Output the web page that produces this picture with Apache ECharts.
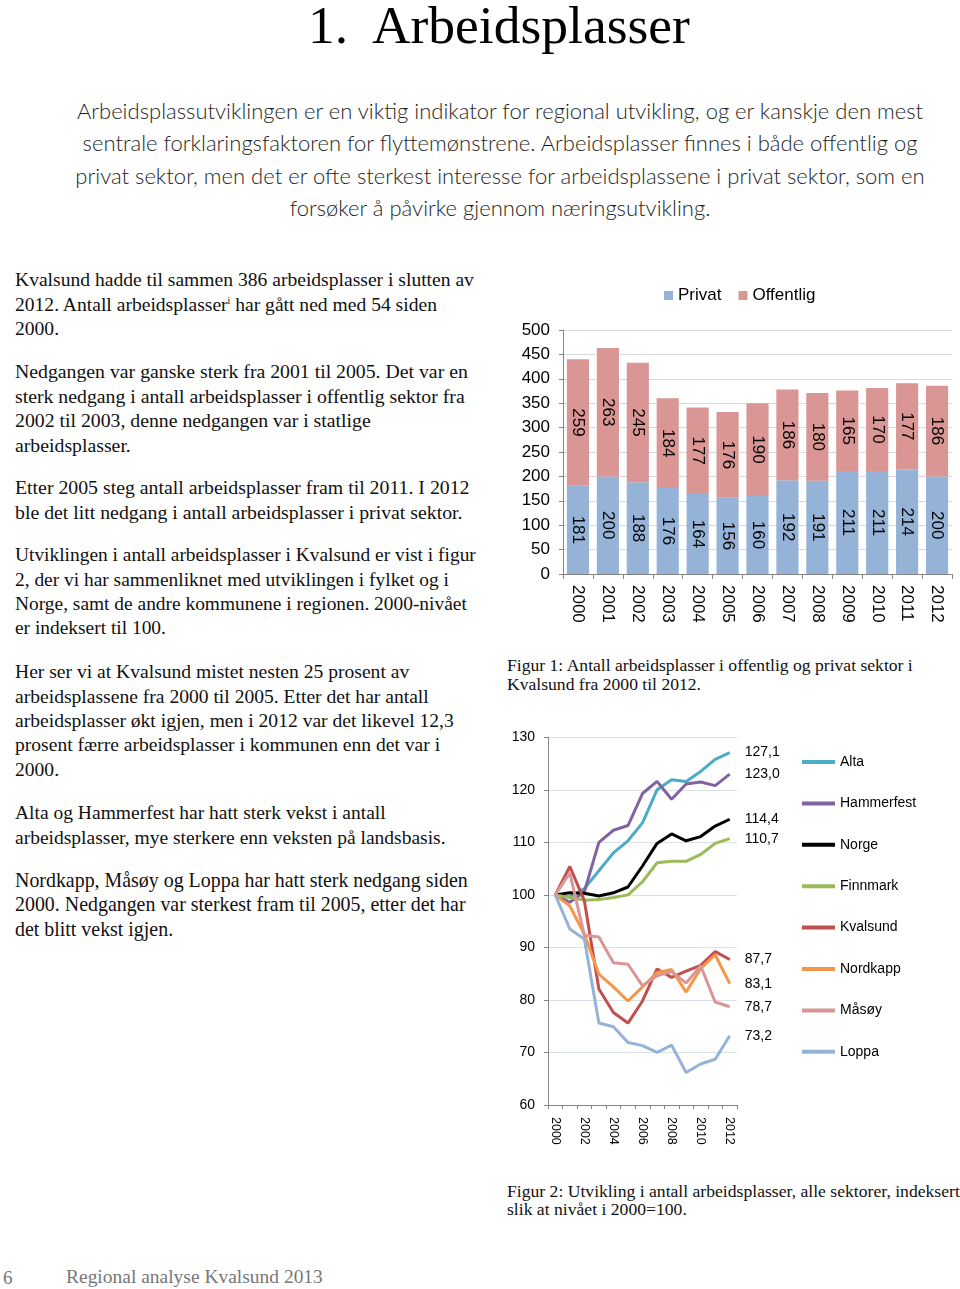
<!DOCTYPE html>
<html><head><meta charset="utf-8">
<script src="https://cdn.jsdelivr.net/npm/echarts@6/dist/echarts.min.js"></script>
<style>
html,body{margin:0;padding:0;background:#fff;}
#page{position:relative;width:960px;height:1289px;overflow:hidden;background:#fff;}
.t{position:absolute;white-space:nowrap;margin:0;}
.serif{font-family:"Liberation Serif","DejaVu Serif",serif;color:#111;font-size:18px;}
.sans{font-family:Lato,"Open Sans",sans-serif;color:#1e1e1e;font-size:20px;font-weight:300;}
sup{font-size:0.5em;vertical-align:0.75em;line-height:0;}
#c1{position:absolute;left:500px;top:270px;width:460px;height:370px;}
#c2{position:absolute;left:500px;top:720px;width:460px;height:450px;}
</style></head><body><div id="page">

<div class="t serif" data-w="382" data-b="43" data-lh="56" data-k="0.3375" style="left:308px;font-size:53px;color:#000">1.&nbsp; Arbeidsplasser</div>

<div class="t sans" data-w="850" data-b="119.3" data-lh="32.5" data-k="0.387" data-center="500" style="text-align:center">Arbeidsplassutviklingen er en viktig indikator for regional utvikling, og er kanskje den mest<br>sentrale forklaringsfaktoren for flyttemønstrene. Arbeidsplasser finnes i både offentlig og<br>privat sektor, men det er ofte sterkest interesse for arbeidsplassene i privat sektor, som en<br>forsøker å påvirke gjennom næringsutvikling.</div>

<div class="t serif" data-w="459" data-b="287.3" data-lh="24.4" data-k="0.3375" style="left:15px">Kvalsund hadde til sammen 386 arbeidsplasser i slutten av<br>2012. Antall arbeidsplasser<sup>i</sup> har gått ned med 54 siden<br>2000.</div>

<div class="t serif" data-w="453" data-b="378.2" data-lh="24.4" data-k="0.3375" style="left:15px">Nedgangen var ganske sterk fra 2001 til 2005. Det var en<br>sterk nedgang i antall arbeidsplasser i offentlig sektor fra<br>2002 til 2003, denne nedgangen var i statlige<br>arbeidsplasser.</div>

<div class="t serif" data-w="455" data-b="494" data-lh="24.4" data-k="0.3375" style="left:15px">Etter 2005 steg antall arbeidsplasser fram til 2011. I 2012<br>ble det litt nedgang i antall arbeidsplasser i privat sektor.</div>

<div class="t serif" data-w="461" data-b="562" data-lh="24.4" data-k="0.3375" style="left:15px">Utviklingen i antall arbeidsplasser i Kvalsund er vist i figur<br>2, der vi har sammenliknet med utviklingen i fylket og i<br>Norge, samt de andre kommunene i regionen. 2000-nivået<br>er indeksert til 100.</div>

<div class="t serif" data-w="439" data-b="679" data-lh="24.4" data-k="0.3375" style="left:15px">Her ser vi at Kvalsund mistet nesten 25 prosent av<br>arbeidsplassene fra 2000 til 2005. Etter det har antall<br>arbeidsplasser økt igjen, men i 2012 var det likevel 12,3<br>prosent færre arbeidsplasser i kommunen enn det var i<br>2000.</div>

<div class="t serif" data-w="431" data-b="820" data-lh="24.4" data-k="0.3375" style="left:15px">Alta og Hammerfest har hatt sterk vekst i antall<br>arbeidsplasser, mye sterkere enn veksten på landsbasis.</div>

<div class="t serif" data-w="453" data-b="887" data-lh="24.4" data-k="0.3375" style="left:15px">Nordkapp, Måsøy og Loppa har hatt sterk nedgang siden<br>2000. Nedgangen var sterkest fram til 2005, etter det har<br>det blitt vekst igjen.</div>

<div class="t serif" data-w="406" data-b="671.5" data-lh="18.3" data-k="0.3375" style="left:507px">Figur 1: Antall arbeidsplasser i offentlig og privat sektor i<br>Kvalsund fra 2000 til 2012.</div>

<div class="t serif" data-w="453" data-b="1197" data-lh="18.3" data-k="0.3375" style="left:507px">Figur 2: Utvikling i antall arbeidsplasser, alle sektorer, indeksert<br>slik at nivået i 2000=100.</div>

<div class="t serif" data-b="1284" data-lh="20" data-k="0.3375" style="left:3px;font-size:19px;color:#777">6</div>
<div class="t serif" data-w="257" data-b="1284" data-lh="20" data-k="0.3375" style="left:66px;font-size:19px;color:#777">Regional analyse Kvalsund 2013</div>

<div id="c1"></div>
<div id="c2"></div>
</div>
<script>
// ---- Figure 1 data ----
const barYears = ['2000','2001','2002','2003','2004','2005','2006','2007','2008','2009','2010','2011','2012'];
const privat    = [181, 200, 188, 176, 164, 156, 160, 192, 191, 211, 211, 214, 200];
const offentlig = [259, 263, 245, 184, 177, 176, 190, 186, 180, 165, 170, 177, 186];
const barSeriesNames = ['Privat', 'Offentlig'];

// ---- Figure 2 data (index, 2000 = 100) ----
const lineYears = ['2000','2001','2002','2003','2004','2005','2006','2007','2008','2009','2010','2011','2012'];
const lineNames = ['Alta','Hammerfest','Norge','Finnmark','Kvalsund','Nordkapp','Måsøy','Loppa'];
const alta       = [100, 99.6, 101.2, 104.6, 108.0, 110.3, 113.7, 120.0, 121.9, 121.6, 123.5, 125.8, 127.1];
const hammerfest = [100, 98.6, 100.6, 110.0, 112.3, 113.2, 119.3, 121.6, 118.2, 121.1, 121.5, 120.8, 123.0];
const norge      = [100, 100.4, 100.3, 99.8, 100.4, 101.5, 105.5, 109.8, 111.6, 110.3, 111.1, 113.1, 114.4];
const finnmark   = [100, 99.5, 99.0, 99.1, 99.5, 100.0, 102.5, 106.1, 106.4, 106.4, 107.7, 109.8, 110.7];
const kvalsund   = [100, 105.4, 98.9, 82.1, 77.6, 75.6, 79.8, 85.9, 84.3, 85.5, 86.6, 89.2, 87.7];
const nordkapp   = [100, 97.9, 92.5, 84.9, 82.5, 79.8, 82.5, 85.2, 85.8, 81.5, 86.0, 88.6, 83.1];
const masoy      = [100, 104.2, 92.3, 92.0, 87.1, 86.8, 82.7, 84.6, 85.4, 83.2, 86.5, 79.6, 78.7];
const loppa      = [100, 93.5, 91.6, 75.6, 74.9, 71.9, 71.3, 70.0, 71.4, 66.2, 67.8, 68.7, 73.2];
const lineValues = [alta, hammerfest, norge, finnmark, kvalsund, nordkapp, masoy, loppa];
const lineColors = ['#4BACC6','#8064A2','#000000','#9BBB59','#C0504D','#F79646','#D99694','#95B3D7'];

// ---- text layout helper ----
document.querySelectorAll('.t').forEach(el => {
  const lh = parseFloat(el.dataset.lh);
  el.style.lineHeight = lh + 'px';
  if (el.dataset.w) {
    const fs0 = parseFloat(getComputedStyle(el).fontSize);
    const w0 = el.getBoundingClientRect().width;
    el.style.fontSize = (fs0 * parseFloat(el.dataset.w) / w0).toFixed(3) + 'px';
  }
  const fs = parseFloat(getComputedStyle(el).fontSize);
  el.style.top = (parseFloat(el.dataset.b) - lh / 2 - parseFloat(el.dataset.k) * fs) + 'px';
  if (el.dataset.center) {
    const w = el.getBoundingClientRect().width;
    el.style.left = (parseFloat(el.dataset.center) - w / 2) + 'px';
  }
});

const FF = '"Liberation Sans", Arial, sans-serif';
const axisGray = '#868686';

const c1 = echarts.init(document.getElementById('c1'));
c1.setOption({
  animation: false,
  textStyle: { fontFamily: FF },
  legend: {
    data: barSeriesNames, left: 159, top: 12, icon: 'rect',
    itemWidth: 9, itemHeight: 9, itemGap: 17,
    textStyle: { fontFamily: FF, fontSize: 17, color: '#000' }
  },
  grid: { left: 63, right: 8, top: 60, bottom: 66, outerBoundsMode: 'none' },
  xAxis: {
    type: 'category', data: barYears,
    axisLine: { lineStyle: { color: axisGray } },
    axisTick: { show: true, length: 5, interval: 0, lineStyle: { color: axisGray } },
    axisLabel: { rotate: -90, fontSize: 17, color: '#000', margin: 11, interval: 0, fontFamily: FF }
  },
  yAxis: {
    type: 'value', min: 0, max: 500, interval: 50,
    axisLine: { show: true, lineStyle: { color: axisGray } },
    axisTick: { show: true, length: 4, lineStyle: { color: axisGray } },
    splitLine: { lineStyle: { color: '#D9D9D9' } },
    axisLabel: { fontSize: 17, color: '#000', margin: 13, fontFamily: FF }
  },
  series: [
    { name: 'Privat', type: 'bar', stack: 'tot', data: privat, barCategoryGap: '26%',
      itemStyle: { color: '#95B3D7' },
      label: { show: true, position: 'inside', rotate: -90, fontSize: 17, color: '#000', fontFamily: FF } },
    { name: 'Offentlig', type: 'bar', stack: 'tot', data: offentlig,
      itemStyle: { color: '#D99694' },
      label: { show: true, position: 'inside', rotate: -90, fontSize: 17, color: '#000', fontFamily: FF } }
  ]
});

const c2 = echarts.init(document.getElementById('c2'));
c2.setOption({
  animation: false,
  textStyle: { fontFamily: FF },
  legend: {
    data: lineNames, orient: 'vertical', left: 297, top: 29, icon: 'rect',
    itemWidth: 33, itemHeight: 4, itemGap: 25.4,
    textStyle: { fontFamily: FF, fontSize: 14, color: '#000', lineHeight: 16 }
  },
  grid: { left: 48, right: 223, top: 17.3, bottom: 65, outerBoundsMode: 'none' },
  xAxis: {
    type: 'category', data: lineYears, boundaryGap: true,
    axisLine: { lineStyle: { color: axisGray } },
    axisTick: { show: true, length: 4, interval: 0, lineStyle: { color: axisGray } },
    axisLabel: { rotate: -90, fontSize: 12.5, color: '#000', margin: 12, interval: 1, fontFamily: FF }
  },
  yAxis: {
    type: 'value', min: 60, max: 130, interval: 10,
    axisLine: { show: true, lineStyle: { color: axisGray } },
    axisTick: { show: true, length: 4, lineStyle: { color: axisGray } },
    splitLine: { lineStyle: { color: '#D9E0E8' } },
    axisLabel: { fontSize: 14, color: '#000', margin: 13, fontFamily: FF }
  },
  series: lineNames.map((n, i) => ({
    name: n, type: 'line', data: lineValues[i], symbol: 'none',
    lineStyle: { width: 3, color: lineColors[i] },
    itemStyle: { color: lineColors[i] },
    endLabel: {
      show: true, distance: 15, fontSize: 14, color: '#000', fontFamily: FF,
      formatter: p => Number(p.value).toFixed(1).replace('.', ',')
    }
  }))
});
</script>
</body></html>
